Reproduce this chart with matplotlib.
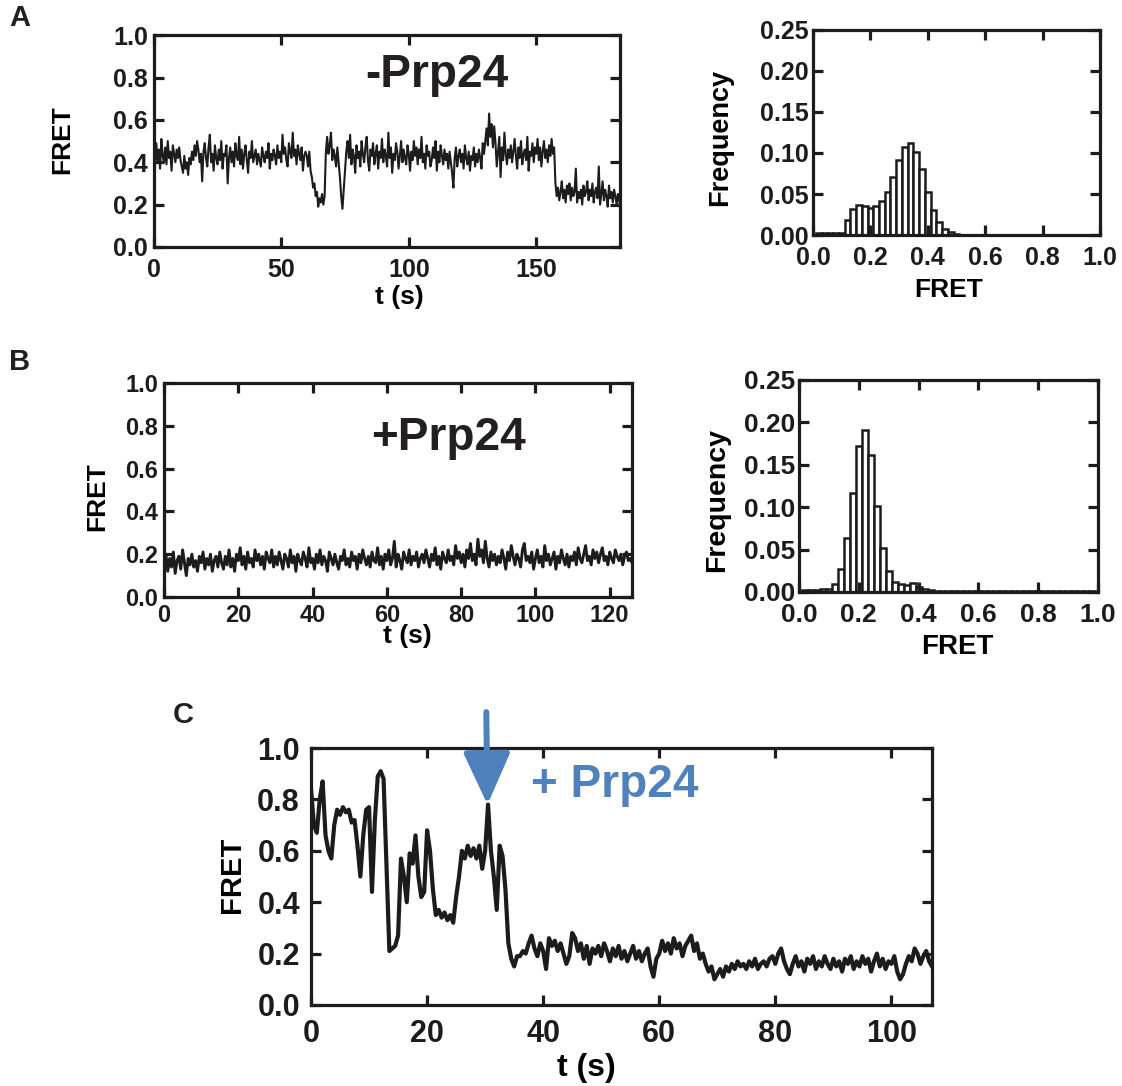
import numpy as np
import matplotlib
matplotlib.use("Agg")
from matplotlib import pyplot as plt
from matplotlib.ticker import FormatStrFormatter, MultipleLocator

plt.rcParams["font.family"] = ["Liberation Sans", "DejaVu Sans"]
plt.rcParams["font.weight"] = "bold"
plt.rcParams["axes.labelweight"] = "bold"

INK = "#1c1c1c"
BLUE = "#4f81bd"

# ---- data ----
# panel A trace, -Prp24, one value every 0.5 s
step_a = 0.5
fret_a = [
    0.44, 0.38, 0.49, 0.41, 0.46, 0.37, 0.51, 0.43, 0.40, 0.47, 0.39, 0.50, 0.42, 0.45, 0.36, 0.48, 0.44, 0.40, 0.46, 0.42,
    0.47, 0.41, 0.38, 0.35, 0.43, 0.37, 0.40, 0.34, 0.42, 0.39, 0.45, 0.41, 0.48, 0.43, 0.50, 0.46, 0.40, 0.44, 0.31, 0.45,
    0.49, 0.42, 0.38, 0.47, 0.53, 0.40, 0.44, 0.36, 0.48, 0.42, 0.39, 0.46, 0.41, 0.50, 0.37, 0.44, 0.43, 0.48, 0.30, 0.42,
    0.47, 0.40, 0.45, 0.38, 0.49, 0.43, 0.41, 0.52, 0.39, 0.46, 0.37, 0.44, 0.48, 0.41, 0.35, 0.45, 0.42, 0.50, 0.40, 0.43,
    0.46, 0.39, 0.44, 0.41, 0.38, 0.47, 0.43, 0.40, 0.45, 0.42, 0.49, 0.37, 0.44, 0.41, 0.46, 0.43, 0.39, 0.48, 0.42, 0.45,
    0.40, 0.53, 0.44, 0.47, 0.41, 0.38, 0.49, 0.45, 0.42, 0.54, 0.43, 0.46, 0.39, 0.48, 0.44, 0.41, 0.47, 0.36, 0.43, 0.45,
    0.43, 0.38, 0.45, 0.36, 0.33, 0.28, 0.30, 0.24, 0.26, 0.19, 0.23, 0.21, 0.25, 0.20, 0.24, 0.45, 0.52, 0.44, 0.48, 0.54,
    0.41, 0.46, 0.43, 0.38, 0.47, 0.40, 0.33, 0.24, 0.18, 0.27, 0.36, 0.45, 0.50, 0.42, 0.53, 0.39, 0.46, 0.43, 0.35, 0.48,
    0.42, 0.45, 0.38, 0.50, 0.44, 0.40, 0.47, 0.52, 0.41, 0.36, 0.46, 0.43, 0.49, 0.39, 0.44, 0.48, 0.37, 0.45, 0.42, 0.51,
    0.40, 0.46, 0.43, 0.38, 0.54, 0.42, 0.47, 0.35, 0.44, 0.41, 0.49, 0.45, 0.37, 0.43, 0.50, 0.40, 0.46, 0.42, 0.39, 0.48,
    0.44, 0.36, 0.45, 0.41, 0.50, 0.43, 0.47, 0.39, 0.46, 0.42, 0.52, 0.40, 0.44, 0.37, 0.48, 0.43, 0.45, 0.38, 0.41, 0.47,
    0.42, 0.50, 0.36, 0.45, 0.40, 0.48, 0.43, 0.39, 0.46, 0.41, 0.44, 0.37, 0.45, 0.40, 0.35, 0.28, 0.42, 0.47, 0.38, 0.43,
    0.46, 0.40, 0.44, 0.37, 0.48, 0.42, 0.39, 0.45, 0.36, 0.43, 0.41, 0.47, 0.38, 0.44, 0.40, 0.46, 0.42, 0.37, 0.49, 0.44,
    0.50, 0.56, 0.48, 0.63, 0.52, 0.58, 0.47, 0.57, 0.49, 0.38, 0.45, 0.52, 0.33, 0.47, 0.41, 0.54, 0.44, 0.39, 0.46, 0.42,
    0.48, 0.40, 0.45, 0.51, 0.43, 0.37, 0.47, 0.42, 0.50, 0.39, 0.44, 0.46, 0.41, 0.52, 0.36, 0.45, 0.43, 0.49, 0.40, 0.47,
    0.44, 0.51, 0.41, 0.47, 0.38, 0.45, 0.50, 0.42, 0.46, 0.40, 0.48, 0.43, 0.51, 0.44, 0.47, 0.30, 0.24, 0.28, 0.22, 0.26,
    0.31, 0.23, 0.27, 0.21, 0.29, 0.25, 0.30, 0.22, 0.28, 0.24, 0.26, 0.37, 0.21, 0.26, 0.23, 0.27, 0.20, 0.29, 0.24, 0.26,
    0.31, 0.22, 0.27, 0.24, 0.30, 0.21, 0.26, 0.28, 0.23, 0.38, 0.20, 0.25, 0.31, 0.22, 0.27, 0.24, 0.19, 0.29, 0.23, 0.26,
    0.21, 0.27, 0.24, 0.20, 0.25, 0.22, 0.18,
]

# panel B trace, +Prp24, one value every 0.5 s
step_b = 0.5
fret_b = [
    0.15, 0.20, 0.12, 0.18, 0.14, 0.21, 0.11, 0.17, 0.19, 0.13, 0.22, 0.16, 0.10, 0.18, 0.15, 0.20, 0.14, 0.17, 0.12, 0.19,
    0.16, 0.21, 0.13, 0.18, 0.15, 0.20, 0.12, 0.17, 0.19, 0.14, 0.21, 0.16, 0.13, 0.19, 0.15, 0.22, 0.14, 0.18, 0.12, 0.20,
    0.17, 0.23, 0.15, 0.19, 0.13, 0.21, 0.16, 0.18, 0.14, 0.22, 0.17, 0.20, 0.15, 0.19, 0.13, 0.21, 0.18, 0.16, 0.22, 0.14,
    0.19, 0.15, 0.21, 0.17, 0.13, 0.20, 0.18, 0.14, 0.22, 0.16, 0.19, 0.12, 0.20, 0.17, 0.15, 0.21, 0.18, 0.14, 0.23, 0.16,
    0.18, 0.13, 0.20, 0.16, 0.22, 0.15, 0.19, 0.17, 0.12, 0.21, 0.18, 0.15, 0.20, 0.16, 0.13, 0.19, 0.17, 0.22, 0.15, 0.18,
    0.14, 0.21, 0.17, 0.19, 0.13, 0.20, 0.16, 0.22, 0.18, 0.15, 0.19, 0.14, 0.21, 0.17, 0.16, 0.23, 0.15, 0.19, 0.13, 0.20,
    0.17, 0.22, 0.15, 0.18, 0.26, 0.14, 0.20, 0.17, 0.13, 0.21, 0.18, 0.16, 0.22, 0.15, 0.19, 0.17, 0.21, 0.14, 0.18, 0.20,
    0.16, 0.22, 0.18, 0.14, 0.20, 0.17, 0.23, 0.15, 0.19, 0.13, 0.21, 0.18, 0.16, 0.22, 0.17, 0.19, 0.15, 0.24, 0.18, 0.21,
    0.16, 0.20, 0.14, 0.22, 0.18, 0.25, 0.17, 0.20, 0.15, 0.27, 0.19, 0.22, 0.16, 0.26, 0.18, 0.14, 0.21, 0.17, 0.20, 0.15,
    0.19, 0.16, 0.22, 0.18, 0.13, 0.21, 0.17, 0.24, 0.19, 0.15, 0.20, 0.18, 0.14, 0.22, 0.25, 0.17, 0.19, 0.16, 0.21, 0.13,
    0.18, 0.22, 0.16, 0.19, 0.14, 0.24, 0.17, 0.20, 0.15, 0.18, 0.21, 0.13, 0.19, 0.16, 0.22, 0.18, 0.15, 0.20, 0.14, 0.19,
    0.17, 0.21, 0.15, 0.23, 0.18, 0.16, 0.20, 0.24, 0.17, 0.19, 0.15, 0.22, 0.18, 0.21, 0.16, 0.20, 0.23, 0.17, 0.19, 0.15,
    0.21, 0.18, 0.16, 0.22, 0.19, 0.17, 0.20, 0.15, 0.19, 0.21, 0.17, 0.18, 0.16,
]

# panel C trace, Prp24 added at ~30 s, one value every 0.5 s
step_c = 0.5
fret_c = [
    0.84, 0.70, 0.67, 0.80, 0.87, 0.66, 0.60, 0.57, 0.70, 0.76, 0.74, 0.77, 0.75, 0.76, 0.71, 0.72, 0.62, 0.50, 0.66, 0.76,
    0.77, 0.44, 0.72, 0.89, 0.91, 0.88, 0.55, 0.21, 0.22, 0.23, 0.27, 0.57, 0.50, 0.40, 0.59, 0.55, 0.66, 0.50, 0.42, 0.44,
    0.68, 0.60, 0.45, 0.35, 0.37, 0.34, 0.36, 0.33, 0.35, 0.32, 0.42, 0.50, 0.60, 0.57, 0.62, 0.58, 0.61, 0.57, 0.62, 0.53,
    0.60, 0.78, 0.60, 0.50, 0.37, 0.62, 0.58, 0.45, 0.24, 0.18, 0.15, 0.19, 0.19, 0.21, 0.20, 0.24, 0.27, 0.22, 0.19, 0.24,
    0.21, 0.14, 0.26, 0.23, 0.25, 0.21, 0.24, 0.20, 0.16, 0.19, 0.28, 0.26, 0.21, 0.24, 0.18, 0.23, 0.16, 0.22, 0.20, 0.23,
    0.19, 0.24, 0.21, 0.17, 0.22, 0.19, 0.23, 0.18, 0.21, 0.17, 0.20, 0.23, 0.18, 0.21, 0.17, 0.20, 0.22, 0.15, 0.11, 0.18,
    0.20, 0.25, 0.21, 0.24, 0.20, 0.26, 0.22, 0.24, 0.19, 0.23, 0.25, 0.27, 0.21, 0.24, 0.18, 0.20, 0.16, 0.13, 0.15, 0.10,
    0.12, 0.14, 0.11, 0.15, 0.13, 0.16, 0.14, 0.17, 0.15, 0.16, 0.14, 0.17, 0.15, 0.18, 0.14, 0.16, 0.17, 0.15, 0.18, 0.19,
    0.16, 0.20, 0.22, 0.17, 0.14, 0.12, 0.16, 0.19, 0.15, 0.17, 0.13, 0.18, 0.16, 0.19, 0.14, 0.17, 0.15, 0.19, 0.16, 0.14,
    0.18, 0.15, 0.17, 0.13, 0.18, 0.16, 0.19, 0.14, 0.17, 0.15, 0.19, 0.16, 0.18, 0.13, 0.17, 0.20, 0.15, 0.18, 0.14, 0.17,
    0.16, 0.19, 0.13, 0.10, 0.12, 0.16, 0.19, 0.17, 0.22, 0.20, 0.16, 0.19, 0.21, 0.17, 0.15,
]

# FRET histograms, 0.02 wide bins starting at 0.01
bin_width = 0.02
hist_a = [
    0.002, 0.002, 0.002, 0.002, 0.003, 0.018, 0.032, 0.036, 0.035, 0.033, 0.035, 0.041, 0.053, 0.071, 0.092, 0.107,
    0.112, 0.101, 0.080, 0.053, 0.031, 0.016, 0.007, 0.004, 0.001,
]
hist_b = [
    0.002, 0.002, 0.002, 0.003, 0.004, 0.009, 0.027, 0.064, 0.117, 0.172, 0.191, 0.161, 0.101, 0.052, 0.025, 0.012,
    0.009, 0.008, 0.010, 0.006, 0.003, 0.002, 0.001, 0.001, 0.001,
    0.0015, 0.0015, 0.0015, 0.0015, 0.0015, 0.0015, 0.0015, 0.0015, 0.0015, 0.0015, 0.0015, 0.0015,
    0.0015, 0.0015, 0.0015, 0.0015, 0.0015, 0.0015, 0.0015, 0.0015, 0.0015, 0.0015, 0.0015, 0.0015,
]


def style_axes(ax, fs, xpad=5, ypad=4):
    for s in ax.spines.values():
        s.set_linewidth(2.3)
        s.set_color(INK)
    ax.tick_params(direction="in", length=7, width=2.3, top=True, right=True,
                   labelsize=fs, colors=INK)
    ax.tick_params(axis="x", pad=xpad)
    ax.tick_params(axis="y", pad=ypad)


def trace(ax, step, vals, xmax, xtick, lw, fs, xpad=5, ypad=4):
    t = np.arange(len(vals)) * step
    ax.plot(t, vals, color=INK, lw=lw)
    ax.set_xlim(0, xmax)
    ax.set_ylim(0, 1.0)
    ax.xaxis.set_major_locator(MultipleLocator(xtick))
    ax.yaxis.set_major_locator(MultipleLocator(0.2))
    ax.yaxis.set_major_formatter(FormatStrFormatter("%.1f"))
    style_axes(ax, fs, xpad, ypad)


def histo(ax, vals, fs):
    left = 0.01 + np.arange(len(vals)) * bin_width
    ax.bar(left, vals, width=bin_width, align="edge", color="white",
           edgecolor=INK, linewidth=1.8)
    ax.set_xlim(0, 1.0)
    ax.set_ylim(0, 0.25)
    ax.xaxis.set_major_locator(MultipleLocator(0.2))
    ax.yaxis.set_major_locator(MultipleLocator(0.05))
    ax.xaxis.set_major_formatter(FormatStrFormatter("%.1f"))
    ax.yaxis.set_major_formatter(FormatStrFormatter("%.2f"))
    style_axes(ax, fs, xpad=8, ypad=3)


fig = plt.figure(figsize=(11.22, 10.86), dpi=100)

# A
ax_a = fig.add_axes([0.137, 0.7726, 0.416, 0.195])
trace(ax_a, step_a, fret_a, 183, 50, 1.5, 18, xpad=8)
ax_a.set_xlabel("t (s)", fontsize=19, va="center")
ax_a.xaxis.set_label_coords(0.527, -0.236)
ax_a.set_ylabel("FRET", fontsize=19, va="center")
ax_a.yaxis.set_label_coords(-0.195, 0.505)
ax_a.text(111, 0.81, "-Prp24", fontsize=33, color="#231f20", ha="center", va="center")

ax_ha = fig.add_axes([0.7246, 0.7836, 0.2558, 0.1888])
histo(ax_ha, hist_a, 18)
ax_ha.set_xlabel("FRET", fontsize=19, va="center")
ax_ha.xaxis.set_label_coords(0.474, -0.268)
ax_ha.set_ylabel("Frequency", fontsize=19.5, va="center")
ax_ha.yaxis.set_label_coords(-0.324, 0.478)

# B
ax_b = fig.add_axes([0.1462, 0.4503, 0.4171, 0.197])
trace(ax_b, step_b, fret_b, 126, 20, 2.1, 17)
ax_b.set_xlabel("t (s)", fontsize=19, va="center")
ax_b.xaxis.set_label_coords(0.519, -0.182)
ax_b.set_ylabel("FRET", fontsize=19, va="center")
ax_b.yaxis.set_label_coords(-0.143, 0.467)
ax_b.text(76.5, 0.744, "+Prp24", fontsize=33, color="#231f20", ha="center", va="center")

ax_hb = fig.add_axes([0.7121, 0.4549, 0.2665, 0.1952])
histo(ax_hb, hist_b, 19)
ax_hb.set_xlabel("FRET", fontsize=20, va="center")
ax_hb.xaxis.set_label_coords(0.528, -0.259)
ax_hb.set_ylabel("Frequency", fontsize=20.5, va="center")
ax_hb.yaxis.set_label_coords(-0.274, 0.434)

# C
ax_c = fig.add_axes([0.2772, 0.0746, 0.5535, 0.2366])
trace(ax_c, step_c, fret_c, 107, 20, 3.0, 22, xpad=10, ypad=8)
ax_c.set_xlabel("t (s)", fontsize=23, va="center")
ax_c.xaxis.set_label_coords(0.444, -0.245)
ax_c.set_ylabel("FRET", fontsize=21, va="center")
ax_c.yaxis.set_label_coords(-0.127, 0.506)
ax_c.text(52.4, 0.856, "+ Prp24", fontsize=33, color=BLUE, ha="center", va="center")
ax_c.annotate("", xy=(30.4, 0.78), xytext=(30.2, 1.14), annotation_clip=False,
              arrowprops=dict(arrowstyle="-|>,head_length=3.2,head_width=1.45",
                              mutation_scale=10, color=BLUE, lw=4.3,
                              shrinkA=0, shrinkB=0))

# panel letters
for letter, x, y in [("A", 0.0178, 0.9834), ("B", 0.0178, 0.6667), ("C", 0.163, 0.3416)]:
    fig.text(x, y, letter, fontsize=21, color="#231f20", ha="center", va="center")

fig.savefig("out.png", dpi=100)
